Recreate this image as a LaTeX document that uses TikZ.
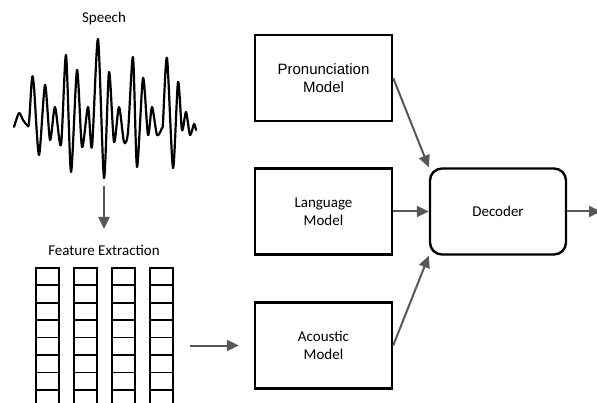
\documentclass[tikz,border=0pt]{standalone}
\usepackage{fontspec}
\setmainfont{Carlito}
\newfontfamily\arialfont{Liberation Sans}
\usetikzlibrary{arrows.meta}
\definecolor{arrowgray}{HTML}{575757}

\begin{document}
\begin{tikzpicture}[
			x=1pt, y=-1pt,
			font=\fontsize{15}{18}\selectfont,
			block/.style={rectangle, draw, line width=2.4pt, minimum width=137pt, minimum height=86pt, align=center, inner sep=0pt},
			decoder/.style={block, rounded corners=12pt, minimum width=136pt},
			arrow/.style={draw=arrowgray, line width=2pt, -{Triangle[length=12pt, width=11pt]}, arrowgray},
			cell/.style={draw, line width=1.8pt},
			wave/.style={line width=2.2pt, line join=round, line cap=round},
		]
		\clip (0,0) rectangle (597,403);

		\node (speech) at (104,19) {Speech};
		\draw[wave] plot[smooth, tension=0.45] coordinates {
			(14,127) (19,113) (23,120) (27,125) (29,123) (32,78) (34,87) (39,155)
			(45,85) (50,140) (55,107) (61,145) (66,55) (71,172) (77,70) (82,147)
			(88,107) (92,147) (98,39) (104,178) (109,72) (114,142) (119,107) (124,142)
			(128,132) (133,57) (137,167) (143,78) (148,135) (152,107) (157,135) (162,128)
			(163,122) (167,58) (173,168) (178,82) (182,130) (186,112) (190,135) (194,124) (196,130)};
		\coordinate (wavebot) at (104,186);
		\coordinate (featin) at (104,229);

		\node (feat) at (104,250) {Feature Extraction};
		\foreach \cx in {36,74,112,150} {
			\foreach \r in {0,...,7} {
				\draw[cell] (\cx,267.7+17.47*\r) rectangle (\cx+23,267.7+17.47*\r+17.47);
			}
		}
		\coordinate (gridout) at (190,345.5);

		\node[block] (pron) at (323.5,78) {\arialfont Pronunciation\\\arialfont Model};
		\node[block] (lang) at (323.5,211.5) {Language\\Model};
		\node[block] (acou) at (323.5,345.5) {Acoustic\\Model};
		\node[decoder] (dec) at (498,211.5) {Decoder};
		\coordinate (out) at (601,211.5);

		\draw[arrow] (wavebot) -- (featin);
		\draw[arrow, shorten >=15pt] (gridout) -- (acou.west);
		\draw[arrow] (pron.east) -- (dec.north west);
		\draw[arrow] (lang.east) -- (dec.west);
		\draw[arrow] (acou.east) -- (dec.south west);
		\draw[arrow] (dec.east) -- (out);
	\end{tikzpicture}
\end{document}
